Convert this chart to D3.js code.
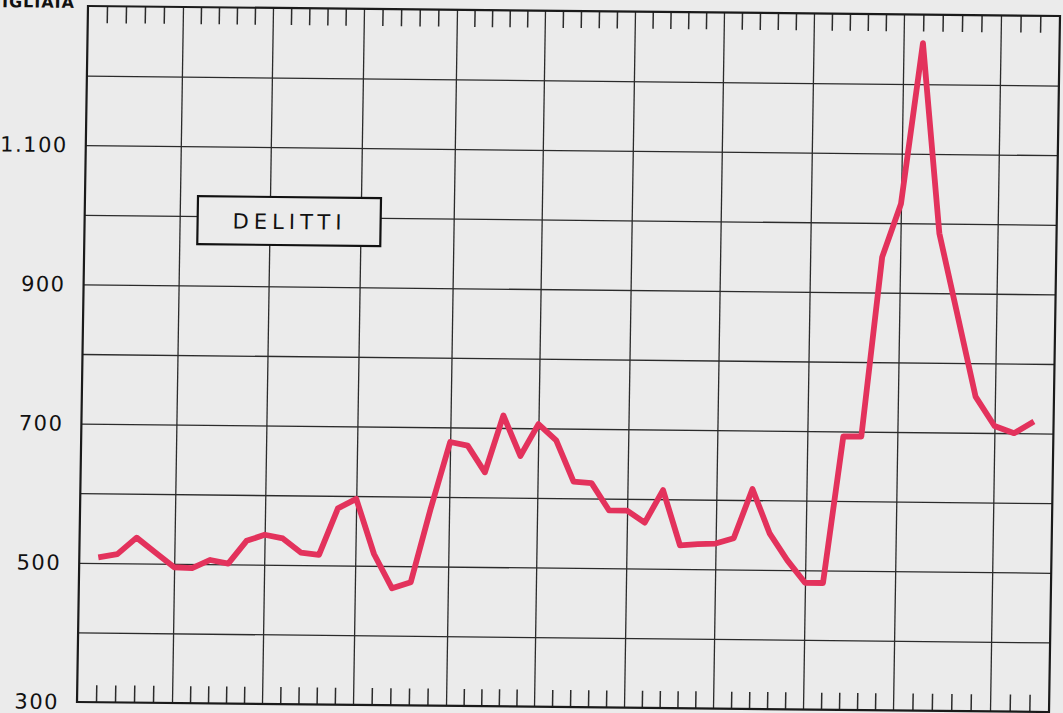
<!DOCTYPE html>
<html><head><meta charset="utf-8">
<script src="https://cdn.jsdelivr.net/npm/d3@7"></script>
<style>
html,body{margin:0;padding:0;background:#ebebeb;overflow:hidden;}
svg{display:block;}
</style></head><body>
<svg id="chart" width="1063" height="713"></svg>
<script>
// ---- data ----
const years = d3.range(1901, 1953);
const delitti = [508,513,537,516,495,494,506,501,534,543,538,518,515,582,596,517,468,477,582,679,
                 674,636,718,660,706,683,624,622,583,583,566,613,534,536,537,545,616,552,514,482,
                 482,693,693,951,1028,1259,986,869,752,710,700,717];
const yTickValues = [300, 500, 700, 900, 1100];
const yGridValues = [400, 500, 600, 700, 800, 900, 1000, 1100, 1200];
const xMajorYears = [1905, 1910, 1915, 1920, 1925, 1930, 1935, 1940, 1945, 1950];
const xMinorYears = years.filter(y => y % 5 !== 0);
const seriesLabel = "DELITTI";
const unitLabel = "MIGLIAIA";
const xBreaks = [1900, 1905, 1910, 1915, 1920, 1925, 1930, 1935, 1940, 1945, 1950, 1953];
const yDomain = [300, 1300];

// ---- layout ----
const W = 972, H = 696;
// printed grid is not perfectly even: pixel offsets of the year breaks along the frame
const xBreakOffsets = [0, 95, 185, 276, 369, 457, 547, 636, 726, 816, 913, 972];
const svg = d3.select("#chart");
svg.append("rect").attr("width", 1063).attr("height", 713).attr("fill", "#ebebeb");
// the printed page is scanned slightly askew
const g = svg.append("g").attr("transform", `matrix(1,${10/972},${-11/696},1,88,6)`);

const x = d3.scaleLinear().domain(xBreaks).range(xBreakOffsets);
const y = d3.scaleLinear().domain(yDomain).range([H, 0]);
const itFmt = d3.formatLocale({decimal: ",", thousands: ".", grouping: [3], currency: ["", "€"]}).format(",d");

const gridColor = "#2b2b2b";

// horizontal grid
const hg = g.append("g").call(d3.axisLeft(y).tickValues(yGridValues).tickSize(-W).tickFormat(""));
hg.select(".domain").remove();
hg.selectAll("line").attr("stroke", gridColor).attr("stroke-width", 1.3);

// vertical grid
const vg = g.append("g").attr("transform", `translate(0,${H})`)
  .call(d3.axisBottom(x).tickValues(xMajorYears).tickSize(-H).tickFormat(""));
vg.select(".domain").remove();
vg.selectAll("line").attr("stroke", gridColor).attr("stroke-width", 1.3);

// minor ticks top and bottom
const tt = g.append("g").call(d3.axisTop(x).tickValues(xMinorYears).tickSize(-17).tickFormat(""));
tt.select(".domain").remove();
tt.selectAll("line").attr("stroke", gridColor).attr("stroke-width", 1.5);
const tb = g.append("g").attr("transform", `translate(0,${H})`)
  .call(d3.axisBottom(x).tickValues(xMinorYears).tickSize(-17).tickFormat(""));
tb.select(".domain").remove();
tb.selectAll("line").attr("stroke", gridColor).attr("stroke-width", 1.5);

// frame
g.append("rect").attr("x", x(xBreaks[0])).attr("y", y(yDomain[1]))
  .attr("width", x(xBreaks[xBreaks.length - 1]) - x(xBreaks[0])).attr("height", y(yDomain[0]) - y(yDomain[1]))
  .attr("fill", "none").attr("stroke", "#1a1a1a").attr("stroke-width", 2.2);

// y labels
const ya = g.append("g").call(d3.axisLeft(y).tickValues(yTickValues).tickSize(0).tickPadding(18).tickFormat(itFmt));
ya.select(".domain").remove();
ya.selectAll("text").attr("font-family", "DejaVu Sans, sans-serif").attr("font-size", 21)
  .attr("letter-spacing", 1.5).attr("fill", "#111");

// unit label (partly outside the top edge, as in the printed page)
g.append("text").attr("x", -13).attr("y", 2).attr("text-anchor", "end")
  .attr("font-family", "DejaVu Sans, sans-serif").attr("font-size", 16).attr("font-weight", "bold")
  .attr("letter-spacing", 1).attr("fill", "#111").text(unitLabel);

// legend box
const lg = g.append("g");
lg.append("rect").attr("x", 113).attr("y", 189).attr("width", 183).attr("height", 48)
  .attr("fill", "#ebebeb").attr("stroke", "#111").attr("stroke-width", 2.2);
lg.append("text").attr("x", 205).attr("y", 221).attr("text-anchor", "middle")
  .attr("font-family", "DejaVu Sans, sans-serif").attr("font-size", 21).attr("letter-spacing", 5)
  .attr("fill", "#111").text(seriesLabel);

// series line
const line = d3.line().x((d, i) => x(years[i])).y(d => y(d));
g.append("path").datum(delitti).attr("d", line).attr("fill", "none")
  .attr("stroke", "#e3325c").attr("stroke-width", 5.8)
  .attr("stroke-linejoin", "round").attr("stroke-linecap", "butt");
</script>
</body></html>
